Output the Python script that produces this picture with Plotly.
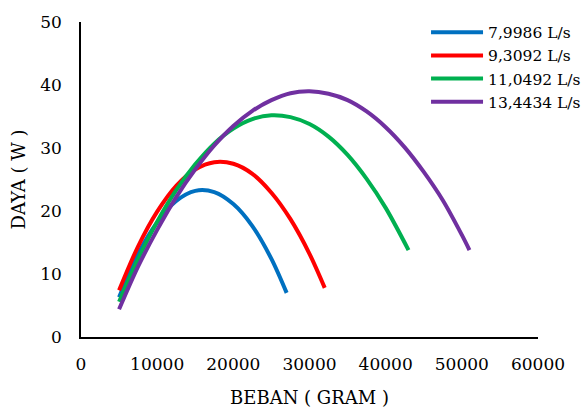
import plotly.graph_objects as go

names = ["7,9986 L/s", "9,3092 L/s", "11,0492 L/s", "13,4434 L/s"]
colors = ["#0070C0", "#FF0000", "#00B050", "#7030A0"]

x_blue = [5000, 7500, 10000, 12500, 15000, 17500, 20000, 22500, 25000, 27000]
y_blue = [6.3, 13.2, 18.2, 21.6, 23.2, 23.0, 21.1, 17.6, 12.4, 7.0]

x_red = [5000, 7500, 10000, 12500, 15000, 17500, 20000, 22500, 25000, 27500, 30000, 32000]
y_red = [7.4, 14.4, 19.9, 24.0, 26.6, 27.75, 27.5, 25.9, 22.9, 18.7, 13.2, 7.8]

x_green = [5000, 7500, 10000, 12500, 15000, 17500, 20000, 22500, 25000, 27500, 30000,
           32500, 35000, 37500, 40000, 43000]
y_green = [5.6, 12.4, 18.3, 23.3, 27.4, 30.7, 33.1, 34.6, 35.2, 34.9, 33.8,
           31.8, 28.9, 25.1, 20.5, 13.8]

x_purple = [5000, 7500, 10000, 12500, 15000, 17500, 20000, 22500, 25000, 27500, 30000,
            32500, 35000, 37500, 40000, 42500, 45000, 47500, 50000, 51000]
y_purple = [4.4, 11.2, 17.0, 22.2, 26.6, 30.4, 33.5, 35.9, 37.6, 38.7, 39.0,
            38.6, 37.6, 35.8, 33.3, 30.1, 26.2, 21.7, 16.2, 13.8]

series = [(x_blue, y_blue), (x_red, y_red), (x_green, y_green), (x_purple, y_purple)]

FONT = "DejaVu Serif"

fig = go.Figure()
for (xs, ys), nm, c in zip(series, names, colors):
    fig.add_trace(go.Scatter(x=xs, y=ys, name=nm, mode="lines",
                             line=dict(color=c, width=4, shape="spline", smoothing=0.9)))

fig.update_layout(
    width=584, height=412,
    margin=dict(l=81, r=46, t=22, b=75, autoexpand=False),
    paper_bgcolor="white", plot_bgcolor="white",
    font=dict(family=FONT, size=17, color="black"),
    legend=dict(x=0.755, y=1.02, xanchor="left", yanchor="top",
                font=dict(family=FONT, size=15.5, color="black"),
                bgcolor="rgba(0,0,0,0)", itemwidth=52, tracegroupgap=0),
    xaxis=dict(range=[0, 60000], tickvals=[0, 10000, 20000, 30000, 40000, 50000, 60000],
               ticktext=["0", "10000", "20000", "30000", "40000", "50000", "60000"],
               showgrid=False, zeroline=False, showline=True, linecolor="black", linewidth=1.5,
               ticks="", ticklabelstandoff=11, automargin=False,
               title=dict(text="BEBAN ( GRAM )", font=dict(size=18), standoff=18)),
    yaxis=dict(range=[0, 50], tickvals=[0, 10, 20, 30, 40, 50],
               showgrid=False, zeroline=False, showline=True, linecolor="black", linewidth=1.5,
               ticks="", ticklabelstandoff=14, automargin=False,
               title=dict(text="DAYA ( W )", font=dict(size=18), standoff=10)),
)

fig.write_html("out.html")
